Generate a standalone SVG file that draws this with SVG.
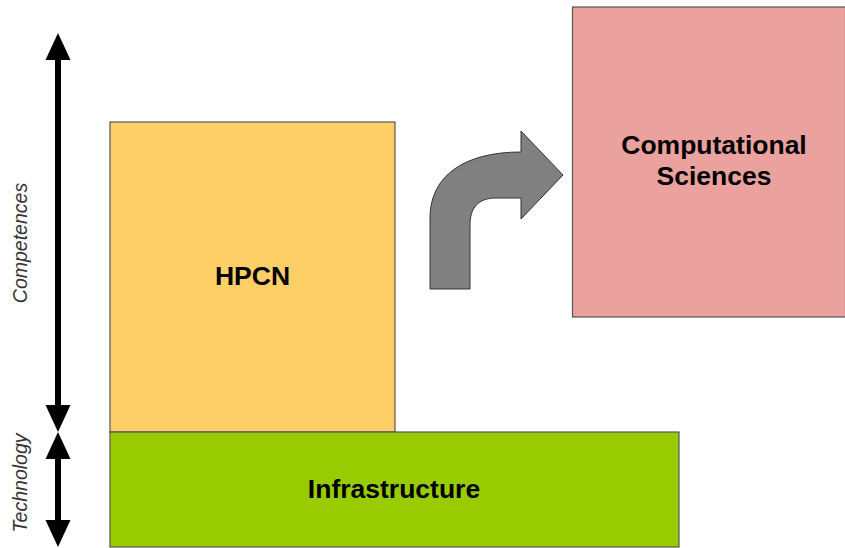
<svg xmlns="http://www.w3.org/2000/svg" width="845" height="548" viewBox="0 0 845 548">
  <style>
    .box { stroke: #555555; stroke-width: 1.2; }
    .label { font-family: "Liberation Sans", Arial, sans-serif; font-weight: bold; font-size: 26.5px; fill: #000000; text-anchor: middle; }
    .axis { font-family: "Liberation Sans", Arial, sans-serif; font-style: italic; font-size: 19.5px; fill: #333333; text-anchor: middle; }
    .shaft { stroke: #000000; stroke-width: 6; fill: none; }
    .head { fill: #000000; }
  </style>
  <rect width="845" height="548" fill="#ffffff"/>

  <g id="axes">
    <!-- Competences axis -->
    <line class="shaft" x1="58" y1="55" x2="58" y2="410"/>
    <polygon class="head" points="58,33 45.5,60 70.5,60"/>
    <polygon class="head" points="58,432 45.5,405 70.5,405"/>
    <!-- Technology axis -->
    <line class="shaft" x1="58" y1="455" x2="58" y2="525"/>
    <polygon class="head" points="58,432 45.5,459 70.5,459"/>
    <polygon class="head" points="58,547 45.5,520 70.5,520"/>
    <text class="axis" transform="translate(27,243) rotate(-90)">Competences</text>
    <text class="axis" transform="translate(27,483) rotate(-90)">Technology</text>
  </g>

  <g id="hpcn">
    <rect class="box" x="110" y="122" width="285" height="310" fill="#FDCF66"/>
    <text class="label" x="252.5" y="285">HPCN</text>
  </g>

  <g id="infrastructure">
    <rect class="box" x="110" y="432" width="569" height="115" fill="#99CC00"/>
    <text class="label" x="394" y="498">Infrastructure</text>
  </g>

  <g id="computational-sciences">
    <rect class="box" x="572.5" y="7" width="273" height="310" fill="#EBA29F"/>
    <text class="label" x="714" y="154">Computational</text>
    <text class="label" x="714" y="185">Sciences</text>
  </g>

  <g id="connectors">
    <path d="M430,289 L430,218 C430,176 464,152 521,152 L521,131 L563,175 L521,219 L521,198 L496,198 C478,198 470,208 470,225 L470,289 Z"
          fill="#808080" stroke="#333333" stroke-width="1"/>
  </g>
</svg>
